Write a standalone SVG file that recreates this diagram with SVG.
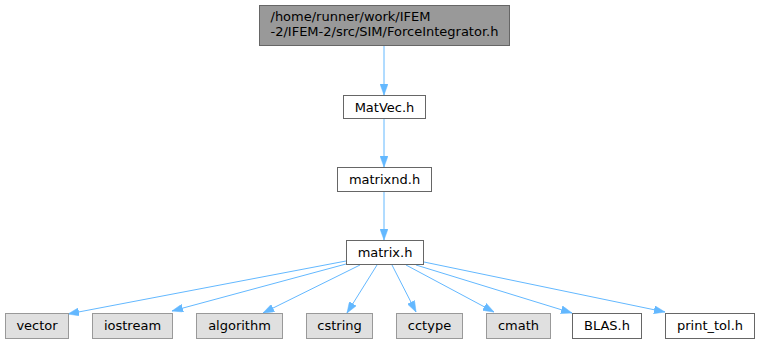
<svg xmlns="http://www.w3.org/2000/svg" width="759" height="344" viewBox="0 0 759 344">
<defs>
<style>
text{font-family:"DejaVu Sans","Liberation Sans",sans-serif;font-size:13px;fill:#000}
.n rect{fill:#fff;stroke:#666;stroke-width:1}
.g rect{fill:#e0e0e0;stroke:#999;stroke-width:1}
.root rect{fill:#999;stroke:#666;stroke-width:1}
.e line{stroke:#63b8ff;stroke-width:1}
</style>
<marker id="a" viewBox="0 0 11 8" refX="11" refY="4" markerWidth="11" markerHeight="8" markerUnits="userSpaceOnUse" orient="auto">
<polygon points="0,0 11,4 0,8" fill="#63b8ff" stroke="#63b8ff" stroke-width="0.5"/>
</marker>
</defs>
<rect width="759" height="344" fill="#fff"/>
<g id="edges" class="e">
<line x1="384" y1="45" x2="384" y2="95" marker-end="url(#a)"/>
<line x1="384" y1="119" x2="384" y2="167" marker-end="url(#a)"/>
<line x1="384" y1="191" x2="384" y2="240" marker-end="url(#a)"/>
<line x1="346" y1="261" x2="68" y2="314" marker-end="url(#a)"/>
<line x1="346" y1="264" x2="172" y2="311" marker-end="url(#a)"/>
<line x1="360" y1="265" x2="263" y2="313" marker-end="url(#a)"/>
<line x1="377" y1="265" x2="347" y2="313" marker-end="url(#a)"/>
<line x1="392" y1="265" x2="416" y2="312" marker-end="url(#a)"/>
<line x1="406" y1="265" x2="494" y2="312" marker-end="url(#a)"/>
<line x1="416" y1="265" x2="572" y2="313" marker-end="url(#a)"/>
<line x1="424" y1="262" x2="665" y2="312" marker-end="url(#a)"/>
</g>
<g id="node_root" class="root">
<rect x="259.5" y="5.5" width="250" height="40"/>
<text x="270.5" y="21">/home/runner/work/IFEM</text>
<text x="270.5" y="36">-2/IFEM-2/src/SIM/ForceIntegrator.h</text>
</g>
<g id="node_matvec" class="n">
<rect x="343.5" y="95.5" width="82" height="23"/>
<text x="384.5" y="112" text-anchor="middle">MatVec.h</text>
</g>
<g id="node_matrixnd" class="n">
<rect x="337.5" y="167.5" width="94" height="24"/>
<text x="384.5" y="184" text-anchor="middle">matrixnd.h</text>
</g>
<g id="node_matrix" class="n">
<rect x="346.5" y="240.5" width="77" height="24"/>
<text x="385" y="257" text-anchor="middle">matrix.h</text>
</g>
<g id="node_vector" class="g">
<rect x="5.5" y="313.5" width="63" height="25"/>
<text x="37" y="330" text-anchor="middle">vector</text>
</g>
<g id="node_iostream" class="g">
<rect x="92.5" y="313.5" width="80" height="25"/>
<text x="132.5" y="330" text-anchor="middle">iostream</text>
</g>
<g id="node_algorithm" class="g">
<rect x="196.5" y="313.5" width="86" height="25"/>
<text x="239.5" y="330" text-anchor="middle">algorithm</text>
</g>
<g id="node_cstring" class="g">
<rect x="306.5" y="313.5" width="66" height="25"/>
<text x="339.5" y="330" text-anchor="middle">cstring</text>
</g>
<g id="node_cctype" class="g">
<rect x="396.5" y="313.5" width="66" height="25"/>
<text x="429.5" y="330" text-anchor="middle">cctype</text>
</g>
<g id="node_cmath" class="g">
<rect x="486.5" y="313.5" width="64" height="25"/>
<text x="518.5" y="330" text-anchor="middle">cmath</text>
</g>
<g id="node_blas" class="n">
<rect x="572.5" y="313.5" width="69" height="25"/>
<text x="607" y="330" text-anchor="middle">BLAS.h</text>
</g>
<g id="node_printtol" class="n">
<rect x="665.5" y="313.5" width="89" height="25"/>
<text x="710" y="330" text-anchor="middle">print_tol.h</text>
</g>
</svg>
